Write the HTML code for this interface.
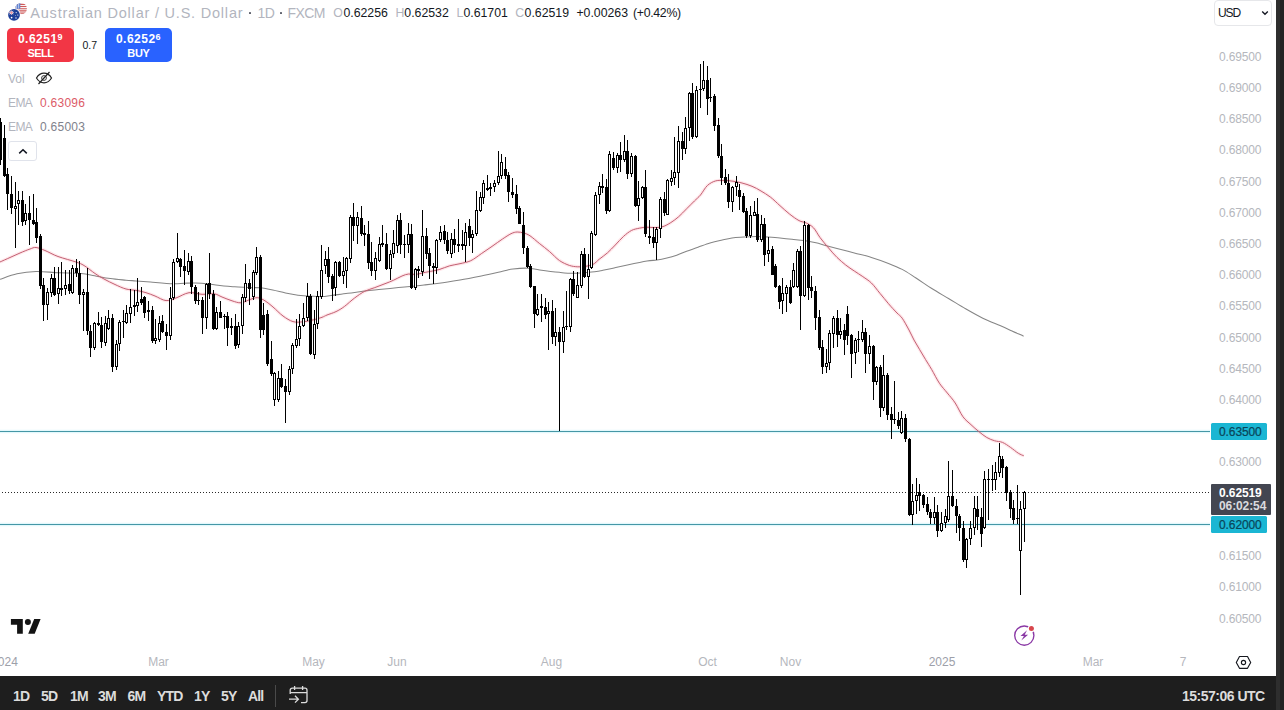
<!DOCTYPE html>
<html><head><meta charset="utf-8">
<style>
html,body{margin:0;padding:0;}
body{width:1284px;height:710px;overflow:hidden;background:#fff;position:relative;font-family:"Liberation Sans",sans-serif;}
#chart{position:absolute;left:0;top:0;}
.abs{position:absolute;white-space:nowrap;}
.pl{position:absolute;left:1219px;font-size:12px;color:#b5b7bd;line-height:12px;letter-spacing:-0.15px;}
.tl{position:absolute;top:655px;font-size:12px;color:#b5b7bd;line-height:14px;transform:translateX(-50%);}
#tb{position:absolute;left:0;top:676px;width:1276px;height:34px;background:#1e1e1e;}
#rs1{position:absolute;left:1276px;top:0;width:4px;height:710px;background:#2e2e2e;}
#rs2{position:absolute;left:1280px;top:0;width:4px;height:710px;background:#222;}
.tbb{position:absolute;top:688px;font-size:14px;line-height:16px;color:#dcdcdc;font-weight:bold;letter-spacing:-0.85px;}
.tag{position:absolute;left:1211px;width:56px;height:17px;background:#1bb6d3;font-size:12px;font-weight:normal;-webkit-text-stroke:0.22px #0a4558;color:#0a4558;line-height:19px;border-radius:1.5px;text-indent:8px;letter-spacing:-0.1px;}
</style></head><body>
<svg id="chart" width="1276" height="676" viewBox="0 0 1276 676">
<path d="M0 431.5H1210M0 524.5H1210" stroke="#7fe0f2" stroke-opacity="0.22" stroke-width="3.4" fill="none"/>
<path d="M0 431.5H1210M0 524.5H1210" stroke="#4597a6" stroke-width="1" fill="none"/>
<path d="M2 492.5H1209" stroke="#2a2a2a" stroke-width="1" stroke-dasharray="1 2" fill="none" shape-rendering="crispEdges"/>
<path d="M0 279.3C2.8 278.4 11.0 275.1 17 273.8C23.0 272.5 29.1 271.7 36 271.5C42.9 271.3 51.0 272.4 58.5 272.7C66.0 273.0 75.0 272.9 81 273.4C87.0 273.9 89.7 274.8 94.6 275.7C99.5 276.6 105.1 277.9 110.3 278.6C115.5 279.4 121.7 279.8 126 280.2C130.3 280.6 131.9 280.6 136 280.9C140.1 281.2 144.3 281.5 150.5 282C156.7 282.5 167.4 283.5 173 283.7C178.6 283.9 180.5 283.3 184.3 283.2C188.1 283.1 191.8 282.9 195.6 283C199.3 283.1 203.1 283.3 206.8 283.7C210.5 284.1 214.5 284.9 218 285.3C221.5 285.7 225.2 286.1 228 286.3C230.8 286.6 231.5 286.6 234.7 286.8C237.9 287.0 243.2 287.4 247.4 287.6C251.6 287.8 255.8 287.4 260 287.8C264.2 288.2 268.6 289.1 272.8 290C277.1 290.9 281.3 292.1 285.5 293C289.7 293.9 293.8 294.7 298 295.2C302.2 295.7 306.8 296.0 310.8 296.2C314.8 296.4 318.6 296.7 322 296.6C325.4 296.5 326.7 296.1 331 295.5C335.3 294.9 342.2 294.1 347.8 293.3C353.4 292.6 359.1 291.7 364.7 291C370.3 290.3 376.0 289.9 381.6 289.3C387.2 288.7 392.9 288.2 398.5 287.6C404.1 287.1 411.1 286.4 415.4 286C419.6 285.6 420.1 285.4 424 285C427.9 284.6 433.0 284.1 439 283.3C445.0 282.5 452.9 281.2 460 280C467.1 278.8 474.2 277.4 481.3 276C488.4 274.6 497.2 272.5 502.5 271.3C507.8 270.1 508.8 269.5 513 269C517.2 268.5 523.5 268.0 528 268.2C532.5 268.4 534.5 269.3 539.7 270C544.9 270.7 553.8 271.8 559.4 272.3C565.0 272.9 568.4 273.3 573.3 273.3C578.2 273.3 584.1 272.8 589 272.3C593.9 271.8 598.6 271.0 602.8 270.3C607.0 269.6 609.9 268.9 614 268C618.1 267.1 621.9 266.2 627.4 265C632.9 263.8 642.1 261.8 647 261C651.9 260.2 653.7 260.5 657 260C660.3 259.5 663.6 258.8 666.9 258C670.2 257.2 673.4 256.3 676.7 255.2C680.0 254.1 683.1 252.5 686.6 251.2C690.1 249.9 694.1 248.7 698 247.3C701.9 245.9 706.3 244.1 710 243C713.7 241.9 716.3 241.3 720 240.5C723.7 239.7 728.0 238.6 732 238C736.0 237.4 740.0 237.3 744 237C748.0 236.7 752.0 236.4 756 236.4C760.0 236.4 764.0 236.7 768 237C772.0 237.3 776.0 237.6 780 238C784.0 238.4 788.0 238.9 792 239.3C796.0 239.7 800.0 239.9 804 240.5C808.0 241.1 812.4 242.0 816 242.8C819.6 243.6 821.9 244.6 825.4 245.5C828.9 246.4 832.2 247.2 837 248.5C841.8 249.8 848.6 251.5 854.3 253C860.0 254.5 865.7 255.7 871.4 257.4C877.1 259.1 883.4 261.4 888.5 263.4C893.6 265.4 897.6 267.0 902.2 269.4C906.8 271.8 911.1 274.9 916 278C920.9 281.1 926.0 284.9 931.4 288.3C936.8 291.7 942.8 295.1 948.5 298.5C954.2 301.9 959.9 305.5 965.6 308.8C971.3 312.1 977.1 315.4 982.8 318.2C988.5 321.0 995.1 323.5 1000 325.6C1004.9 327.7 1008.1 329.2 1012 331C1015.9 332.8 1021.7 335.3 1023.6 336.2" stroke="#858585" stroke-width="1.05" fill="none"/>
<path d="M0 262C1.7 261.2 6.7 259.0 10 257.5C13.3 256.0 16.7 254.4 20 253C23.3 251.6 27.3 249.9 30 249C32.7 248.1 33.5 247.2 36 247.5C38.5 247.8 41.3 249.0 45 250.5C48.7 252.0 52.8 254.6 58 256.5C63.2 258.4 71.7 260.5 76 262C80.3 263.5 80.8 263.6 84 265.5C87.2 267.4 91.7 271.2 95 273.5C98.3 275.8 100.7 277.2 104 279C107.3 280.8 111.3 282.8 115 284.5C118.7 286.2 122.3 288.0 126 289C129.7 290.0 133.7 289.9 137 290.5C140.3 291.1 143.0 291.8 146 292.7C149.0 293.6 151.7 294.7 155 296C158.3 297.3 162.5 300.3 166 300.6C169.5 300.9 172.2 299.3 176 298C179.8 296.7 184.7 293.3 189 292.7C193.3 292.1 197.8 294.1 202 294.3C206.2 294.5 210.7 293.4 214 293.8C217.3 294.2 219.0 295.8 222 297C225.0 298.2 228.8 299.8 232 300.8C235.2 301.8 238.0 303.0 241 302.8C244.0 302.6 247.2 300.4 250 299.5C252.8 298.6 255.0 297.5 257.5 297.7C260.0 297.9 262.4 299.2 265 300.8C267.6 302.4 270.0 304.5 273 307C276.0 309.5 279.7 313.6 283 316C286.3 318.4 289.7 320.6 293 321.6C296.3 322.6 299.6 322.1 303 321.8C306.4 321.5 310.2 320.6 313.4 319.8C316.6 319.1 319.7 318.1 322 317.3C324.3 316.5 324.7 315.9 327 315C329.3 314.1 333.1 313.0 336 311.6C338.9 310.2 341.3 308.8 344.4 306.5C347.5 304.2 351.2 300.5 354.6 298C358.0 295.5 361.3 293.0 364.7 291.3C368.1 289.6 371.4 288.9 374.8 287.6C378.2 286.3 381.9 284.9 385 283.7C388.1 282.5 390.6 281.6 393.4 280.3C396.2 279.0 399.5 277.1 402 276C404.5 274.9 406.4 274.3 408.6 274C410.8 273.7 412.8 274.6 415.4 274.4C418.0 274.2 421.8 273.1 424 272.6C426.2 272.2 426.1 272.2 428.6 271.7C431.1 271.2 435.5 270.6 439 269.6C442.5 268.6 446.2 266.8 449.7 265.8C453.2 264.8 456.5 264.6 460 263.7C463.5 262.8 467.2 262.4 470.8 260.7C474.4 259.0 477.8 256.1 481.3 253.7C484.8 251.3 488.5 248.8 492 246.4C495.5 244.0 499.3 241.1 502.5 239C505.7 236.9 508.6 234.9 511 233.7C513.5 232.5 515.1 232.1 517.2 232C519.3 231.9 521.5 232.4 523.6 233C525.7 233.6 527.3 234.0 530 235.8C532.7 237.6 536.4 241.1 539.7 243.7C543.0 246.3 546.3 248.8 549.6 251.6C552.9 254.4 556.1 258.2 559.4 260.5C562.7 262.8 566.3 264.3 569.3 265.4C572.3 266.4 574.6 266.6 577.2 266.8C579.8 267.0 582.4 266.8 585 266.4C587.6 266.0 590.6 265.6 593 264.4C595.4 263.2 597.1 260.9 599.5 259C601.9 257.1 604.9 255.1 607.5 252.8C610.1 250.5 612.6 247.7 615.3 245C618.0 242.3 620.8 238.8 623.5 236.4C626.2 234.0 628.8 231.9 631.4 230.5C634.0 229.1 636.7 228.8 639.3 228.2C641.9 227.6 644.4 227.3 647 227.2C649.6 227.1 652.3 227.7 655 227.6C657.7 227.5 660.4 227.4 663 226.6C665.6 225.8 668.2 224.2 670.8 222.6C673.4 220.9 676.1 219.0 678.7 216.7C681.3 214.4 684.0 211.4 686.6 208.8C689.2 206.2 692.1 203.3 694.4 201C696.7 198.7 698.3 197.6 700.5 195C702.7 192.4 704.9 187.8 707.4 185.5C709.9 183.2 712.7 181.8 715.3 181C717.9 180.2 720.2 180.4 723.2 180.4C726.2 180.4 729.9 180.8 733 181.2C736.1 181.6 738.8 182.2 742 183C745.2 183.8 748.8 185.0 752 186.3C755.2 187.6 758.0 189.2 761 191C764.0 192.8 767.1 194.6 770.3 197C773.5 199.4 776.8 202.9 780 205.7C783.2 208.5 786.3 211.5 789.5 214C792.7 216.5 796.2 219.1 799 220.6C801.8 222.1 803.9 221.8 806.3 223C808.7 224.2 811.2 225.4 813.5 227.8C815.8 230.2 817.5 234.1 820 237.5C822.5 240.9 825.8 244.7 828.6 248C831.4 251.3 834.1 254.6 837 257.4C839.9 260.2 842.8 262.7 845.7 265C848.6 267.3 851.4 269.1 854.3 271C857.1 272.9 859.9 274.6 862.8 276.6C865.6 278.6 868.5 280.2 871.4 283C874.3 285.8 877.1 289.9 880 293.4C882.9 296.8 885.7 300.4 888.5 303.7C891.3 307.0 894.7 310.6 897 313C899.3 315.4 900.2 315.4 902.2 318.2C904.2 321.0 907.0 326.4 909 330C911.0 333.6 912.2 336.7 914 340C915.8 343.3 917.8 346.4 919.7 349.7C921.6 353.0 923.6 356.3 925.6 359.6C927.6 362.9 929.3 365.5 931.6 369.4C933.9 373.3 936.8 379.3 939.4 383.2C942.0 387.1 944.7 389.7 947.3 393C949.9 396.3 952.6 399.0 955.2 403C957.8 407.0 960.4 413.2 963 416.8C965.6 420.4 968.4 422.2 971 424.7C973.6 427.2 976.3 429.5 978.9 431.6C981.5 433.7 984.2 436.0 986.8 437.5C989.4 439.0 992.1 440.0 994.7 440.8C997.3 441.6 999.9 441.3 1002.5 442.4C1005.1 443.5 1007.8 445.5 1010.4 447.3C1013.0 449.1 1016.1 451.8 1018.3 453.2C1020.5 454.6 1022.9 455.4 1023.8 455.8" stroke="#ff5a70" stroke-opacity="0.14" stroke-width="3.4" fill="none"/>
<path d="M0 262C1.7 261.2 6.7 259.0 10 257.5C13.3 256.0 16.7 254.4 20 253C23.3 251.6 27.3 249.9 30 249C32.7 248.1 33.5 247.2 36 247.5C38.5 247.8 41.3 249.0 45 250.5C48.7 252.0 52.8 254.6 58 256.5C63.2 258.4 71.7 260.5 76 262C80.3 263.5 80.8 263.6 84 265.5C87.2 267.4 91.7 271.2 95 273.5C98.3 275.8 100.7 277.2 104 279C107.3 280.8 111.3 282.8 115 284.5C118.7 286.2 122.3 288.0 126 289C129.7 290.0 133.7 289.9 137 290.5C140.3 291.1 143.0 291.8 146 292.7C149.0 293.6 151.7 294.7 155 296C158.3 297.3 162.5 300.3 166 300.6C169.5 300.9 172.2 299.3 176 298C179.8 296.7 184.7 293.3 189 292.7C193.3 292.1 197.8 294.1 202 294.3C206.2 294.5 210.7 293.4 214 293.8C217.3 294.2 219.0 295.8 222 297C225.0 298.2 228.8 299.8 232 300.8C235.2 301.8 238.0 303.0 241 302.8C244.0 302.6 247.2 300.4 250 299.5C252.8 298.6 255.0 297.5 257.5 297.7C260.0 297.9 262.4 299.2 265 300.8C267.6 302.4 270.0 304.5 273 307C276.0 309.5 279.7 313.6 283 316C286.3 318.4 289.7 320.6 293 321.6C296.3 322.6 299.6 322.1 303 321.8C306.4 321.5 310.2 320.6 313.4 319.8C316.6 319.1 319.7 318.1 322 317.3C324.3 316.5 324.7 315.9 327 315C329.3 314.1 333.1 313.0 336 311.6C338.9 310.2 341.3 308.8 344.4 306.5C347.5 304.2 351.2 300.5 354.6 298C358.0 295.5 361.3 293.0 364.7 291.3C368.1 289.6 371.4 288.9 374.8 287.6C378.2 286.3 381.9 284.9 385 283.7C388.1 282.5 390.6 281.6 393.4 280.3C396.2 279.0 399.5 277.1 402 276C404.5 274.9 406.4 274.3 408.6 274C410.8 273.7 412.8 274.6 415.4 274.4C418.0 274.2 421.8 273.1 424 272.6C426.2 272.2 426.1 272.2 428.6 271.7C431.1 271.2 435.5 270.6 439 269.6C442.5 268.6 446.2 266.8 449.7 265.8C453.2 264.8 456.5 264.6 460 263.7C463.5 262.8 467.2 262.4 470.8 260.7C474.4 259.0 477.8 256.1 481.3 253.7C484.8 251.3 488.5 248.8 492 246.4C495.5 244.0 499.3 241.1 502.5 239C505.7 236.9 508.6 234.9 511 233.7C513.5 232.5 515.1 232.1 517.2 232C519.3 231.9 521.5 232.4 523.6 233C525.7 233.6 527.3 234.0 530 235.8C532.7 237.6 536.4 241.1 539.7 243.7C543.0 246.3 546.3 248.8 549.6 251.6C552.9 254.4 556.1 258.2 559.4 260.5C562.7 262.8 566.3 264.3 569.3 265.4C572.3 266.4 574.6 266.6 577.2 266.8C579.8 267.0 582.4 266.8 585 266.4C587.6 266.0 590.6 265.6 593 264.4C595.4 263.2 597.1 260.9 599.5 259C601.9 257.1 604.9 255.1 607.5 252.8C610.1 250.5 612.6 247.7 615.3 245C618.0 242.3 620.8 238.8 623.5 236.4C626.2 234.0 628.8 231.9 631.4 230.5C634.0 229.1 636.7 228.8 639.3 228.2C641.9 227.6 644.4 227.3 647 227.2C649.6 227.1 652.3 227.7 655 227.6C657.7 227.5 660.4 227.4 663 226.6C665.6 225.8 668.2 224.2 670.8 222.6C673.4 220.9 676.1 219.0 678.7 216.7C681.3 214.4 684.0 211.4 686.6 208.8C689.2 206.2 692.1 203.3 694.4 201C696.7 198.7 698.3 197.6 700.5 195C702.7 192.4 704.9 187.8 707.4 185.5C709.9 183.2 712.7 181.8 715.3 181C717.9 180.2 720.2 180.4 723.2 180.4C726.2 180.4 729.9 180.8 733 181.2C736.1 181.6 738.8 182.2 742 183C745.2 183.8 748.8 185.0 752 186.3C755.2 187.6 758.0 189.2 761 191C764.0 192.8 767.1 194.6 770.3 197C773.5 199.4 776.8 202.9 780 205.7C783.2 208.5 786.3 211.5 789.5 214C792.7 216.5 796.2 219.1 799 220.6C801.8 222.1 803.9 221.8 806.3 223C808.7 224.2 811.2 225.4 813.5 227.8C815.8 230.2 817.5 234.1 820 237.5C822.5 240.9 825.8 244.7 828.6 248C831.4 251.3 834.1 254.6 837 257.4C839.9 260.2 842.8 262.7 845.7 265C848.6 267.3 851.4 269.1 854.3 271C857.1 272.9 859.9 274.6 862.8 276.6C865.6 278.6 868.5 280.2 871.4 283C874.3 285.8 877.1 289.9 880 293.4C882.9 296.8 885.7 300.4 888.5 303.7C891.3 307.0 894.7 310.6 897 313C899.3 315.4 900.2 315.4 902.2 318.2C904.2 321.0 907.0 326.4 909 330C911.0 333.6 912.2 336.7 914 340C915.8 343.3 917.8 346.4 919.7 349.7C921.6 353.0 923.6 356.3 925.6 359.6C927.6 362.9 929.3 365.5 931.6 369.4C933.9 373.3 936.8 379.3 939.4 383.2C942.0 387.1 944.7 389.7 947.3 393C949.9 396.3 952.6 399.0 955.2 403C957.8 407.0 960.4 413.2 963 416.8C965.6 420.4 968.4 422.2 971 424.7C973.6 427.2 976.3 429.5 978.9 431.6C981.5 433.7 984.2 436.0 986.8 437.5C989.4 439.0 992.1 440.0 994.7 440.8C997.3 441.6 999.9 441.3 1002.5 442.4C1005.1 443.5 1007.8 445.5 1010.4 447.3C1013.0 449.1 1016.1 451.8 1018.3 453.2C1020.5 454.6 1022.9 455.4 1023.8 455.8" stroke="#c26073" stroke-width="1" fill="none"/>
<path d="M0 118h1v47h-1zM-1 122h3v38h-3zM4 125h1v52h-1zM3 138h3v38h-3zM7 168h1v42h-1zM6 174h3v20h-3zM11 176h1v38h-1zM10 194h3v14h-3zM15 182h1v66h-1zM14 206h3v3h-3zM18 191h1v34h-1zM17 200h3v4h-3zM22 191h1v35h-1zM21 200h3v22h-3zM25 204h1v21h-1zM24 213h3v8h-3zM29 196h1v49h-1zM28 213h3v7h-3zM33 194h1v31h-1zM32 220h3v4h-3zM36 208h1v35h-1zM35 222h3v16h-3zM40 234h1v55h-1zM39 236h3v50h-3zM43 278h1v43h-1zM42 285h3v20h-3zM47 288h1v32h-1zM46 292h3v13h-3zM51 274h1v23h-1zM50 278h3v15h-3zM54 267h1v29h-1zM53 278h3v17h-3zM58 267h1v37h-1zM57 288h3v6h-3zM61 262h1v34h-1zM60 288h3v2h-3zM65 270h1v25h-1zM64 285h3v4h-3zM69 270h1v24h-1zM68 284h3v7h-3zM72 265h1v29h-1zM71 268h3v25h-3zM76 259h1v18h-1zM75 268h3v5h-3zM79 261h1v43h-1zM78 273h3v22h-3zM83 289h1v42h-1zM82 292h3v3h-3zM87 268h1v67h-1zM86 292h3v39h-3zM90 325h1v32h-1zM89 331h3v17h-3zM94 322h1v28h-1zM93 323h3v25h-3zM98 312h1v14h-1zM97 323h3v2h-3zM101 317h1v31h-1zM100 325h3v17h-3zM105 316h1v30h-1zM104 323h3v20h-3zM108 310h1v20h-1zM107 318h3v11h-3zM112 314h1v58h-1zM111 318h3v49h-3zM116 340h1v30h-1zM115 344h3v23h-3zM119 320h1v31h-1zM118 322h3v22h-3zM123 310h1v28h-1zM122 321h3v1h-3zM126 305h1v19h-1zM125 313h3v10h-3zM130 289h1v34h-1zM129 307h3v7h-3zM134 290h1v26h-1zM133 305h3v2h-3zM137 278h1v34h-1zM136 302h3v4h-3zM141 287h1v18h-1zM140 299h3v4h-3zM144 296h1v22h-1zM143 297h3v16h-3zM148 301h1v20h-1zM147 310h3v2h-3zM152 306h1v37h-1zM151 310h3v31h-3zM155 319h1v25h-1zM154 338h3v3h-3zM159 316h1v26h-1zM158 323h3v17h-3zM162 315h1v18h-1zM161 321h3v11h-3zM166 324h1v26h-1zM165 332h3v4h-3zM170 287h1v53h-1zM169 298h3v38h-3zM173 259h1v41h-1zM172 262h3v36h-3zM177 233h1v30h-1zM176 258h3v4h-3zM180 258h1v19h-1zM179 259h3v8h-3zM184 250h1v35h-1zM183 266h3v5h-3zM188 253h1v22h-1zM187 261h3v11h-3zM191 256h1v38h-1zM190 261h3v26h-3zM195 285h1v19h-1zM194 287h3v14h-3zM198 292h1v13h-1zM197 300h3v1h-3zM202 297h1v37h-1zM201 300h3v18h-3zM206 283h1v46h-1zM205 284h3v34h-3zM209 253h1v46h-1zM208 283h3v11h-3zM213 290h1v40h-1zM212 294h3v35h-3zM216 307h1v23h-1zM215 312h3v17h-3zM220 301h1v17h-1zM219 312h3v6h-3zM224 314h1v15h-1zM223 316h3v1h-3zM227 312h1v34h-1zM226 316h3v12h-3zM231 318h1v17h-1zM230 326h3v2h-3zM235 314h1v35h-1zM234 326h3v20h-3zM238 322h1v26h-1zM237 326h3v19h-3zM242 294h1v40h-1zM241 297h3v29h-3zM245 264h1v38h-1zM244 283h3v15h-3zM249 279h1v26h-1zM248 283h3v6h-3zM253 270h1v30h-1zM252 272h3v25h-3zM256 247h1v28h-1zM255 257h3v16h-3zM260 255h1v83h-1zM259 257h3v73h-3zM263 303h1v32h-1zM262 315h3v15h-3zM267 310h1v56h-1zM266 314h3v50h-3zM271 341h1v35h-1zM270 359h3v15h-3zM274 372h1v34h-1zM273 373h3v27h-3zM278 371h1v31h-1zM277 378h3v22h-3zM281 364h1v24h-1zM280 378h3v9h-3zM285 379h1v44h-1zM284 386h3v6h-3zM289 366h1v29h-1zM288 369h3v23h-3zM292 343h1v31h-1zM291 345h3v24h-3zM296 319h1v29h-1zM295 339h3v7h-3zM299 314h1v32h-1zM298 326h3v13h-3zM303 303h1v24h-1zM302 318h3v8h-3zM307 283h1v38h-1zM306 296h3v22h-3zM310 294h1v61h-1zM309 296h3v58h-3zM314 310h1v49h-1zM313 324h3v31h-3zM317 291h1v38h-1zM316 296h3v28h-3zM321 245h1v54h-1zM320 270h3v27h-3zM325 251h1v23h-1zM324 259h3v7h-3zM328 247h1v36h-1zM327 259h3v18h-3zM332 274h1v27h-1zM331 276h3v13h-3zM335 261h1v35h-1zM334 262h3v26h-3zM339 261h1v16h-1zM338 262h3v14h-3zM343 257h1v27h-1zM342 271h3v5h-3zM346 257h1v31h-1zM345 258h3v13h-3zM350 215h1v48h-1zM349 217h3v42h-3zM353 203h1v38h-1zM352 217h3v9h-3zM357 212h1v32h-1zM356 217h3v9h-3zM361 206h1v30h-1zM360 218h3v16h-3zM364 225h1v21h-1zM363 233h3v2h-3zM368 221h1v48h-1zM367 234h3v29h-3zM371 242h1v34h-1zM370 262h3v9h-3zM375 252h1v28h-1zM374 258h3v13h-3zM379 237h1v25h-1zM378 244h3v17h-3zM382 225h1v22h-1zM381 243h3v2h-3zM386 233h1v37h-1zM385 244h3v25h-3zM390 250h1v30h-1zM389 254h3v15h-3zM393 230h1v28h-1zM392 243h3v11h-3zM397 215h1v38h-1zM396 220h3v26h-3zM400 213h1v41h-1zM399 220h3v25h-3zM404 235h1v23h-1zM403 244h3v1h-3zM408 223h1v30h-1zM407 234h3v11h-3zM411 224h1v65h-1zM410 234h3v54h-3zM415 268h1v22h-1zM414 269h3v19h-3zM418 266h1v12h-1zM417 269h3v2h-3zM422 210h1v66h-1zM421 236h3v36h-3zM426 228h1v31h-1zM425 236h3v18h-3zM429 248h1v31h-1zM428 253h3v13h-3zM433 263h1v21h-1zM432 266h3v2h-3zM436 239h1v35h-1zM435 240h3v28h-3zM440 226h1v16h-1zM439 232h3v8h-3zM444 225h1v19h-1zM443 231h3v9h-3zM447 232h1v22h-1zM446 240h3v11h-3zM451 233h1v25h-1zM450 239h3v15h-3zM454 229h1v24h-1zM453 239h3v6h-3zM458 219h1v33h-1zM457 244h3v2h-3zM462 230h1v20h-1zM461 244h3v2h-3zM465 223h1v39h-1zM464 232h3v14h-3zM469 219h1v27h-1zM468 226h3v12h-3zM472 230h1v23h-1zM471 234h3v4h-3zM476 191h1v45h-1zM475 210h3v24h-3zM480 192h1v20h-1zM479 197h3v14h-3zM483 180h1v24h-1zM482 183h3v15h-3zM487 175h1v16h-1zM486 188h3v2h-3zM490 183h1v13h-1zM489 187h3v2h-3zM494 180h1v12h-1zM493 183h3v4h-3zM498 151h1v34h-1zM497 176h3v7h-3zM501 154h1v25h-1zM500 162h3v14h-3zM505 157h1v22h-1zM504 169h3v7h-3zM508 172h1v30h-1zM507 175h3v17h-3zM512 178h1v20h-1zM511 192h3v3h-3zM516 185h1v29h-1zM515 194h3v15h-3zM519 206h1v18h-1zM518 208h3v16h-3zM523 212h1v42h-1zM522 225h3v23h-3zM527 246h1v22h-1zM526 248h3v19h-3zM530 264h1v24h-1zM529 266h3v21h-3zM534 286h1v42h-1zM533 286h3v28h-3zM537 294h1v22h-1zM536 309h3v6h-3zM541 294h1v28h-1zM540 306h3v2h-3zM545 298h1v21h-1zM544 307h3v8h-3zM548 302h1v48h-1zM547 311h3v3h-3zM552 300h1v44h-1zM551 311h3v26h-3zM555 308h1v38h-1zM554 332h3v5h-3zM559 327h1v104h-1zM558 332h3v10h-3zM563 311h1v42h-1zM562 327h3v15h-3zM566 291h1v39h-1zM565 326h3v1h-3zM570 278h1v54h-1zM569 279h3v48h-3zM573 271h1v25h-1zM572 279h3v15h-3zM577 272h1v26h-1zM576 285h3v13h-3zM581 251h1v37h-1zM580 254h3v32h-3zM584 248h1v30h-1zM583 254h3v23h-3zM588 254h1v45h-1zM587 269h3v8h-3zM591 231h1v38h-1zM590 233h3v35h-3zM595 192h1v44h-1zM594 195h3v40h-3zM599 182h1v22h-1zM598 186h3v9h-3zM602 174h1v19h-1zM601 186h3v2h-3zM606 179h1v35h-1zM605 187h3v24h-3zM609 151h1v61h-1zM608 154h3v57h-3zM613 152h1v18h-1zM612 158h3v10h-3zM617 153h1v20h-1zM616 155h3v13h-3zM620 142h1v30h-1zM619 155h3v5h-3zM624 135h1v27h-1zM623 151h3v9h-3zM627 140h1v39h-1zM626 151h3v23h-3zM631 153h1v24h-1zM630 156h3v18h-3zM635 155h1v52h-1zM634 156h3v50h-3zM638 181h1v40h-1zM637 198h3v8h-3zM642 186h1v13h-1zM641 187h3v11h-3zM645 170h1v67h-1zM644 187h3v47h-3zM649 220h1v24h-1zM648 236h3v2h-3zM653 227h1v21h-1zM652 237h3v6h-3zM656 227h1v33h-1zM655 229h3v14h-3zM660 197h1v41h-1zM659 199h3v30h-3zM664 192h1v24h-1zM663 199h3v14h-3zM667 179h1v36h-1zM666 180h3v35h-3zM671 170h1v16h-1zM670 178h3v4h-3zM674 137h1v48h-1zM673 172h3v6h-3zM678 126h1v62h-1zM677 141h3v32h-3zM682 132h1v28h-1zM681 141h3v8h-3zM685 117h1v37h-1zM684 128h3v21h-3zM689 92h1v49h-1zM688 93h3v35h-3zM692 83h1v56h-1zM691 93h3v44h-3zM696 86h1v52h-1zM695 90h3v47h-3zM700 64h1v44h-1zM699 89h3v1h-3zM703 61h1v30h-1zM702 80h3v9h-3zM707 66h1v49h-1zM706 80h3v19h-3zM710 78h1v24h-1zM709 97h3v1h-3zM714 94h1v37h-1zM713 96h3v30h-3zM718 118h1v40h-1zM717 125h3v31h-3zM721 144h1v41h-1zM720 156h3v22h-3zM725 169h1v16h-1zM724 177h3v6h-3zM728 174h1v34h-1zM727 183h3v19h-3zM732 186h1v26h-1zM731 187h3v15h-3zM736 176h1v20h-1zM735 182h3v5h-3zM739 184h1v26h-1zM738 190h3v7h-3zM743 193h1v20h-1zM742 196h3v16h-3zM746 208h1v30h-1zM745 211h3v25h-3zM750 206h1v32h-1zM749 215h3v21h-3zM754 201h1v15h-1zM753 212h3v4h-3zM757 198h1v44h-1zM756 214h3v26h-3zM761 215h1v27h-1zM760 224h3v16h-3zM764 218h1v48h-1zM763 224h3v31h-3zM768 237h1v25h-1zM767 250h3v4h-3zM772 246h1v29h-1zM771 249h3v26h-3zM775 264h1v24h-1zM774 266h3v21h-3zM779 285h1v24h-1zM778 286h3v16h-3zM782 278h1v36h-1zM781 293h3v8h-3zM786 285h1v27h-1zM785 287h3v7h-3zM790 280h1v24h-1zM789 287h3v16h-3zM793 263h1v25h-1zM792 270h3v17h-3zM797 249h1v39h-1zM796 251h3v36h-3zM800 246h1v84h-1zM799 251h3v45h-3zM804 221h1v76h-1zM803 225h3v71h-3zM808 224h1v76h-1zM807 225h3v63h-3zM811 276h1v22h-1zM810 287h3v4h-3zM815 286h1v44h-1zM814 291h3v27h-3zM819 310h1v40h-1zM818 317h3v31h-3zM822 340h1v34h-1zM821 347h3v20h-3zM826 349h1v24h-1zM825 363h3v4h-3zM829 330h1v40h-1zM828 333h3v30h-3zM833 316h1v32h-1zM832 318h3v16h-3zM837 310h1v37h-1zM836 318h3v17h-3zM840 318h1v21h-1zM839 331h3v4h-3zM844 324h1v31h-1zM843 330h3v10h-3zM847 306h1v39h-1zM846 314h3v22h-3zM851 334h1v44h-1zM850 335h3v19h-3zM855 338h1v26h-1zM854 340h3v13h-3zM858 331h1v21h-1zM857 339h3v1h-3zM862 320h1v22h-1zM861 332h3v8h-3zM865 328h1v45h-1zM864 332h3v22h-3zM869 335h1v29h-1zM868 346h3v8h-3zM873 345h1v55h-1zM872 346h3v36h-3zM876 366h1v19h-1zM875 367h3v15h-3zM880 365h1v52h-1zM879 367h3v41h-3zM883 355h1v56h-1zM882 375h3v33h-3zM887 373h1v47h-1zM886 375h3v40h-3zM891 407h1v32h-1zM890 414h3v6h-3zM894 381h1v43h-1zM893 419h3v1h-3zM898 412h1v17h-1zM897 420h3v6h-3zM901 411h1v23h-1zM900 418h3v15h-3zM905 414h1v28h-1zM904 418h3v21h-3zM909 438h1v78h-1zM908 439h3v76h-3zM912 484h1v41h-1zM911 501h3v14h-3zM916 478h1v36h-1zM915 495h3v6h-3zM919 484h1v27h-1zM918 492h3v4h-3zM923 494h1v14h-1zM922 495h3v10h-3zM927 497h1v18h-1zM926 504h3v8h-3zM930 509h1v15h-1zM929 512h3v6h-3zM934 497h1v27h-1zM933 512h3v6h-3zM937 505h1v32h-1zM936 512h3v19h-3zM941 512h1v20h-1zM940 523h3v8h-3zM945 509h1v19h-1zM944 516h3v7h-3zM948 461h1v61h-1zM947 496h3v24h-3zM952 470h1v37h-1zM951 496h3v10h-3zM956 499h1v34h-1zM955 506h3v10h-3zM959 514h1v27h-1zM958 516h3v12h-3zM963 521h1v41h-1zM962 528h3v32h-3zM966 538h1v30h-1zM965 539h3v21h-3zM970 521h1v24h-1zM969 528h3v11h-3zM974 496h1v39h-1zM973 508h3v20h-3zM977 496h1v34h-1zM976 509h3v8h-3zM981 508h1v39h-1zM980 517h3v17h-3zM984 471h1v58h-1zM983 479h3v49h-3zM988 469h1v51h-1zM987 479h3v1h-3zM992 465h1v26h-1zM991 479h3v1h-3zM995 462h1v28h-1zM994 472h3v8h-3zM999 443h1v34h-1zM998 456h3v17h-3zM1002 456h1v22h-1zM1001 459h3v9h-3zM1006 466h1v35h-1zM1005 467h3v26h-3zM1010 490h1v28h-1zM1009 492h3v17h-3zM1013 500h1v24h-1zM1012 508h3v12h-3zM1017 485h1v39h-1zM1016 518h3v1h-3zM1020 501h1v94h-1zM1019 509h3v42h-3zM1024 491h1v51h-1zM1023 492h3v17h-3z" fill="#000" shape-rendering="crispEdges"/>
<path d="M15 207h1v1h-1zM18 201h1v2h-1zM25 214h1v6h-1zM47 293h1v11h-1zM51 279h1v13h-1zM58 289h1v4h-1zM65 286h1v2h-1zM72 269h1v23h-1zM83 293h1v1h-1zM94 324h1v23h-1zM105 324h1v18h-1zM108 319h1v9h-1zM116 345h1v21h-1zM119 323h1v20h-1zM126 314h1v8h-1zM130 308h1v5h-1zM137 303h1v2h-1zM155 339h1v1h-1zM159 324h1v15h-1zM170 299h1v36h-1zM173 263h1v34h-1zM177 259h1v2h-1zM188 262h1v9h-1zM206 285h1v32h-1zM216 313h1v15h-1zM238 327h1v17h-1zM242 298h1v27h-1zM245 284h1v13h-1zM253 273h1v23h-1zM256 258h1v14h-1zM274 374h1v25h-1zM278 379h1v20h-1zM289 370h1v21h-1zM292 346h1v22h-1zM296 340h1v5h-1zM299 327h1v11h-1zM303 319h1v6h-1zM307 297h1v20h-1zM314 325h1v29h-1zM317 297h1v26h-1zM321 271h1v25h-1zM325 260h1v5h-1zM335 263h1v24h-1zM343 272h1v3h-1zM346 259h1v11h-1zM350 218h1v40h-1zM357 218h1v7h-1zM375 259h1v11h-1zM379 245h1v15h-1zM390 255h1v13h-1zM393 244h1v9h-1zM397 221h1v24h-1zM408 235h1v9h-1zM415 270h1v17h-1zM422 237h1v34h-1zM436 241h1v26h-1zM440 233h1v6h-1zM451 240h1v13h-1zM465 233h1v12h-1zM472 235h1v2h-1zM476 211h1v22h-1zM480 198h1v12h-1zM483 184h1v13h-1zM494 184h1v2h-1zM498 177h1v5h-1zM501 163h1v12h-1zM537 310h1v4h-1zM548 312h1v1h-1zM555 333h1v3h-1zM563 328h1v13h-1zM570 280h1v46h-1zM577 286h1v11h-1zM581 255h1v30h-1zM588 270h1v6h-1zM591 234h1v33h-1zM595 196h1v38h-1zM599 187h1v7h-1zM609 155h1v55h-1zM617 156h1v11h-1zM624 152h1v7h-1zM631 157h1v16h-1zM638 199h1v6h-1zM642 188h1v9h-1zM656 230h1v12h-1zM660 200h1v28h-1zM667 181h1v33h-1zM671 179h1v2h-1zM674 173h1v4h-1zM678 142h1v30h-1zM685 129h1v19h-1zM689 94h1v33h-1zM696 91h1v45h-1zM703 81h1v7h-1zM732 188h1v13h-1zM736 183h1v3h-1zM750 216h1v19h-1zM754 213h1v2h-1zM761 225h1v14h-1zM768 251h1v2h-1zM782 294h1v6h-1zM786 288h1v5h-1zM793 271h1v15h-1zM797 252h1v34h-1zM804 226h1v69h-1zM826 364h1v2h-1zM829 334h1v28h-1zM833 319h1v14h-1zM840 332h1v2h-1zM855 341h1v11h-1zM862 333h1v6h-1zM869 347h1v6h-1zM876 368h1v13h-1zM883 376h1v31h-1zM901 419h1v13h-1zM912 502h1v12h-1zM916 496h1v4h-1zM934 513h1v4h-1zM941 524h1v6h-1zM945 517h1v5h-1zM948 497h1v22h-1zM966 540h1v19h-1zM970 529h1v9h-1zM974 509h1v18h-1zM984 480h1v47h-1zM995 473h1v6h-1zM999 457h1v15h-1zM1020 510h1v40h-1zM1024 493h1v15h-1z" fill="#fff" shape-rendering="crispEdges"/>
</svg>
<!-- price axis labels -->
<div class="pl" style="top:51px">0.69500</div>
<div class="pl" style="top:82px">0.69000</div>
<div class="pl" style="top:113px">0.68500</div>
<div class="pl" style="top:144px">0.68000</div>
<div class="pl" style="top:176px">0.67500</div>
<div class="pl" style="top:207px">0.67000</div>
<div class="pl" style="top:238px">0.66500</div>
<div class="pl" style="top:269px">0.66000</div>
<div class="pl" style="top:300px">0.65500</div>
<div class="pl" style="top:332px">0.65000</div>
<div class="pl" style="top:363px">0.64500</div>
<div class="pl" style="top:394px">0.64000</div>
<div class="pl" style="top:456px">0.63000</div>
<div class="pl" style="top:550px">0.61500</div>
<div class="pl" style="top:581px">0.61000</div>
<div class="pl" style="top:613px">0.60500</div>
<div class="tag" style="top:423px">0.63500</div>
<div class="tag" style="top:516px">0.62000</div>
<div class="abs" style="left:1211px;top:484px;width:60px;height:30.6px;background:#434651;border-radius:1px;color:#fff;font-size:12px;font-weight:bold;line-height:14px;">
<div style="position:absolute;left:8px;top:2px;letter-spacing:-0.1px;">0.62519</div>
<div style="position:absolute;left:8px;top:15px;color:#d9dade;letter-spacing:-0.1px;">06:02:54</div>
</div>
<!-- USD box -->
<div class="abs" style="left:1214px;top:0px;width:56px;height:24px;border:1px solid #e6e7ea;border-radius:4px;box-sizing:content-box;"></div>
<div class="abs" style="left:1218px;top:6px;font-size:12px;line-height:14px;color:#131722;letter-spacing:-1.1px;">USD</div>
<svg class="abs" style="left:1260.5px;top:9px" width="8" height="8" viewBox="0 0 8 8"><path d="M1.2 2.6L4 5.2L6.8 2.6" stroke="#131722" stroke-width="1.4" fill="none"/></svg>
<!-- time labels -->
<div class="tl" style="left:4.5px;color:#9da0a9">2024</div>
<div class="tl" style="left:158.5px">Mar</div>
<div class="tl" style="left:313.5px">May</div>
<div class="tl" style="left:397px">Jun</div>
<div class="tl" style="left:551.5px">Aug</div>
<div class="tl" style="left:707.5px">Oct</div>
<div class="tl" style="left:790.5px">Nov</div>
<div class="tl" style="left:942px;color:#9da0a9">2025</div>
<div class="tl" style="left:1093px">Mar</div>
<div class="tl" style="left:1183px">7</div>
<!-- header -->
<svg class="abs" style="left:0px;top:0px" width="30" height="24" viewBox="0 0 30 24">
<clipPath id="us"><circle cx="21.1" cy="8.7" r="5.8"/></clipPath>
<g clip-path="url(#us)"><rect x="14" y="2" width="15" height="14" fill="#f7f3f3"/><path d="M14 4.3h15M14 6.5h15M14 8.7h15M14 10.9h15M14 13.1h15" stroke="#cf5a5a" stroke-width="1.15"/><rect x="14" y="2" width="6.3" height="6.8" fill="#5b7fd0"/><path d="M16.6 3v5.6M18.6 3v5.6" stroke="#dfe6f7" stroke-width="0.7"/></g>
<circle cx="14" cy="14.9" r="6.7" fill="#fff"/>
<circle cx="14" cy="14.9" r="5.9" fill="#1d3f98"/>
<path d="M9.6 11.2l3.6 3M13.2 11.2l-3.6 3M11.4 10.6v4.2M9 12.7h4.8" stroke="#fff" stroke-width="0.9"/><path d="M11.4 10.8v3.8M9.2 12.7h4.4" stroke="#e8505b" stroke-width="0.45"/>
<circle cx="11.6" cy="17.6" r="0.85" fill="#fff"/><circle cx="16.2" cy="12.6" r="0.55" fill="#fff"/><circle cx="17.8" cy="15" r="0.6" fill="#fff"/><circle cx="16" cy="18" r="0.65" fill="#fff"/><circle cx="15.4" cy="15.4" r="0.4" fill="#fff"/>
</svg>
<div class="abs" id="title" style="left:0;top:5px;font-size:14px;line-height:16px;color:#b2b5be;">
<span class="abs" id="t1" style="left:30.3px;font-size:14.5px;letter-spacing:0.79px">Australian Dollar / U.S. Dollar</span>
<span class="abs" id="t2" style="left:257.4px;letter-spacing:-0.4px">1D</span>
<span class="abs" id="t3" style="left:287.6px;letter-spacing:-0.6px">FXCM</span>
<span class="abs" style="left:249px;top:7px;width:2.3px;height:2.3px;background:#5d606b;border-radius:0.6px"></span>
<span class="abs" style="left:279.6px;top:7px;width:2.3px;height:2.3px;background:#5d606b;border-radius:0.6px"></span>
</div>
<div class="abs" id="ohlc" style="left:0;top:5.5px;font-size:12.3px;line-height:15px;color:#131722;">
<span class="abs" style="left:333.3px;color:#b2b5be">O</span><span class="abs" style="left:343.4px">0.62256</span>
<span class="abs" style="left:395.5px;color:#b2b5be">H</span><span class="abs" style="left:404.3px">0.62532</span>
<span class="abs" style="left:456.4px;color:#b2b5be">L</span><span class="abs" style="left:463.4px">0.61701</span>
<span class="abs" style="left:515.3px;color:#b2b5be">C</span><span class="abs" style="left:524.6px">0.62519</span>
<span class="abs" style="left:576.4px">+0.00263</span><span class="abs" style="left:633px;letter-spacing:-0.3px">(+0.42%)</span></div>
<!-- sell/buy -->
<div class="abs" style="left:7px;top:28px;width:67px;height:34px;background:#f23645;border-radius:5px;color:#fff;text-align:center;font-weight:bold;">
<div style="position:absolute;left:0;width:67px;top:3.5px;font-size:12px;line-height:14px;letter-spacing:0.5px;">0.6251<span style="font-size:9px;position:relative;top:-3px">9</span></div>
<div style="position:absolute;left:0;width:67px;top:19px;font-size:11px;line-height:13px;letter-spacing:-0.5px;">SELL</div></div>
<div class="abs" style="left:82.5px;top:39px;font-size:10.5px;line-height:13px;color:#131722;">0.7</div>
<div class="abs" style="left:105px;top:28px;width:67px;height:34px;background:#2962ff;border-radius:5px;color:#fff;text-align:center;font-weight:bold;">
<div style="position:absolute;left:0;width:67px;top:3.5px;font-size:12px;line-height:14px;letter-spacing:0.5px;">0.6252<span style="font-size:9px;position:relative;top:-3px">6</span></div>
<div style="position:absolute;left:0;width:67px;top:19px;font-size:11px;line-height:13px;letter-spacing:-0.3px;">BUY</div></div>
<!-- legends -->
<div class="abs" style="left:8px;top:72px;font-size:12px;line-height:14px;color:#b2b5be;">Vol</div>
<svg class="abs" style="left:35px;top:70px" width="18" height="16" viewBox="0 0 18 16"><path d="M1.5 8C3.5 4.6 6 3.2 9 3.2S14.5 4.6 16.5 8C14.5 11.4 12 12.8 9 12.8S3.5 11.4 1.5 8Z" stroke="#222" stroke-width="1.2" fill="none"/><circle cx="9" cy="8" r="2.4" stroke="#222" stroke-width="0.9" fill="none"/><path d="M3.5 14L14.5 2" stroke="#222" stroke-width="1.2"/></svg>
<div class="abs" style="left:8px;top:96px;font-size:12px;line-height:14px;color:#b2b5be;"><span style="letter-spacing:-0.6px">EMA</span> <span style="color:#dc5b68;margin-left:4.5px;letter-spacing:0.25px">0.63096</span></div>
<div class="abs" style="left:8px;top:120px;font-size:12px;line-height:14px;color:#b2b5be;"><span style="letter-spacing:-0.6px">EMA</span> <span style="color:#7f828c;margin-left:4.5px;letter-spacing:0.25px">0.65003</span></div>
<div class="abs" style="left:8px;top:140.5px;width:28.5px;height:20px;border:1px solid #e0e3eb;border-radius:3px;background:#fff;box-sizing:border-box;"></div>
<svg class="abs" style="left:16.5px;top:146.5px" width="12" height="9" viewBox="0 0 12 9"><path d="M2.2 6.4L6 2.8L9.8 6.4" stroke="#131722" stroke-width="1.5" fill="none"/></svg>
<!-- TV logo -->
<svg class="abs" style="left:0px;top:610px" width="50" height="30" viewBox="0 610 50 30"><path d="M10.9 619.1H22.8V633.8H17.1V624.8H10.9Z" fill="#131313"/><circle cx="27.9" cy="622" r="3" fill="#131313"/><path d="M34.2 619.1H40.6L34.7 633.8H28.2Z" fill="#131313"/></svg>
<!-- lightning icon -->
<svg class="abs" style="left:1010px;top:621px" width="30" height="30" viewBox="0 0 30 30"><circle cx="14.3" cy="14.6" r="9.6" stroke="#8a38a5" stroke-width="1.35" fill="none"/><path d="M17 9.2L10.5 14.9H13.9L11.3 19.6L18.1 13.7H14.7Z" fill="#8a38a5"/><circle cx="21.4" cy="7.6" r="3.6" fill="#fff"/><circle cx="21.4" cy="7.5" r="2.5" fill="#d8474d"/></svg>
<!-- settings hex -->
<svg class="abs" style="left:1234px;top:653px" width="20" height="20" viewBox="0 0 20 20"><path d="M2.3 9.4L5.5 3.5H13.5L16.7 9.4L13.5 15.3H5.5Z" stroke="#16181f" stroke-width="1.15" fill="none" stroke-linejoin="round"/><circle cx="9.5" cy="9.45" r="2.1" stroke="#16181f" stroke-width="1.15" fill="none"/></svg>
<!-- bottom toolbar -->
<div id="tb"></div><div id="rs1"></div><div id="rs2"></div>
<div class="tbb" style="left:13px">1D</div>
<div class="tbb" style="left:41px">5D</div>
<div class="tbb" style="left:70px">1M</div>
<div class="tbb" style="left:98px">3M</div>
<div class="tbb" style="left:127.5px">6M</div>
<div class="tbb" style="left:157px">YTD</div>
<div class="tbb" style="left:194px">1Y</div>
<div class="tbb" style="left:221px">5Y</div>
<div class="tbb" style="left:248px">All</div>
<div class="abs" style="left:275px;top:685px;width:1px;height:22px;background:#4a4a4a;"></div>
<svg class="abs" style="left:288px;top:685px" width="22" height="20" viewBox="0 0 22 20"><path d="M2.2 9V5.2a2 2 0 0 1 2-2H17a2 2 0 0 1 2 2V15.6a2 2 0 0 1 -2 2H13" stroke="#dcdcdc" stroke-width="1.3" fill="none"/><path d="M2.2 7.6H19M6.6 1v4M14.6 1v4" stroke="#dcdcdc" stroke-width="1.3" fill="none"/><path d="M1 14.2h9M7 10.8l3.4 3.4L7 17.6" stroke="#dcdcdc" stroke-width="1.3" fill="none"/></svg>
<div class="tbb" style="left:1182px;letter-spacing:-0.5px;" id="clock">15:57:06 UTC</div>
</body></html>
